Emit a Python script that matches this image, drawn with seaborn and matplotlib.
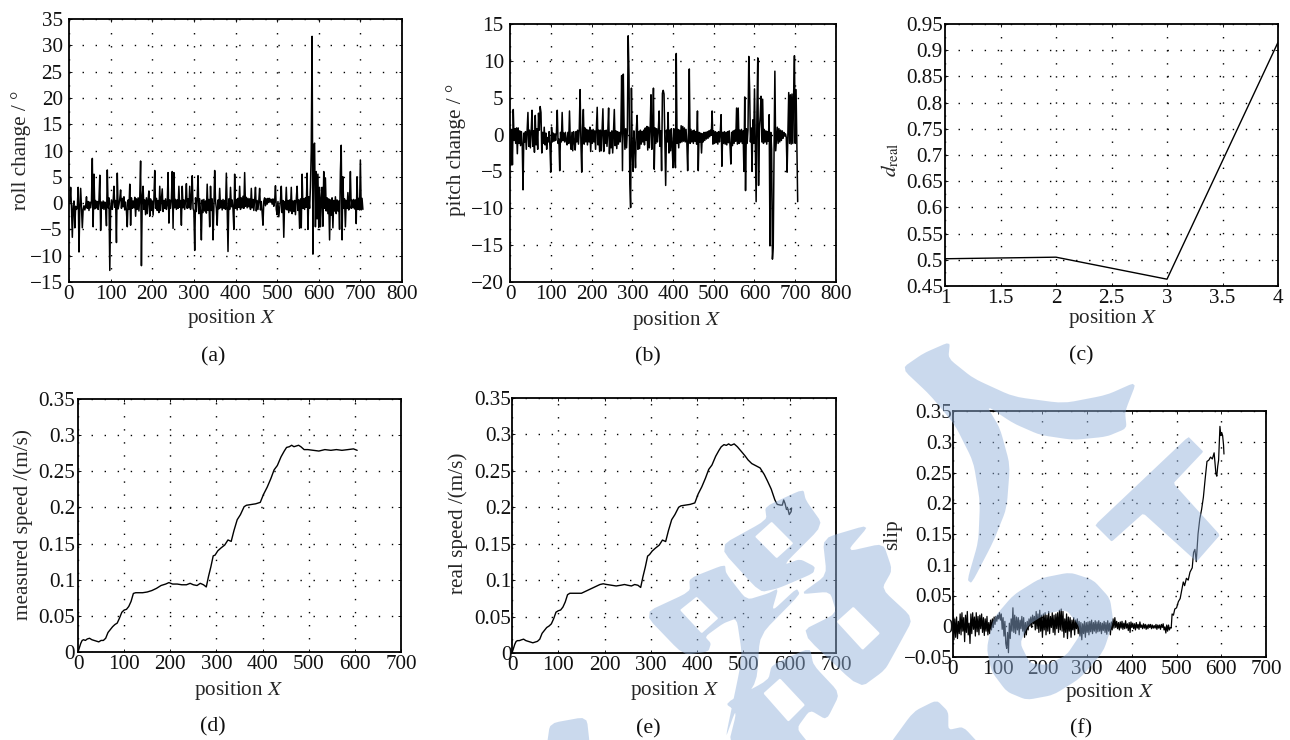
import numpy as np
import matplotlib
matplotlib.use('Agg')
import matplotlib.pyplot as plt
import seaborn as sns
from matplotlib.patches import PathPatch
from matplotlib.path import Path
from matplotlib.transforms import Affine2D

# roll change, one value every 2 units of position
roll_change = [
    0.5, 0.2, 3.0, -1.0, -6.5, -0.5, 0.4, -4.7, -0.6, -1.2,
    -0.8, 3.0, -9.3, -0.7, 2.8, -1.0, -4.7, -1.2, -0.5, -1.3,
    -0.6, 1.2, -1.0, 0.3, -1.4, 0.2, -0.9, 0.4, 8.5, -4.5,
    5.5, -1.1, 0.5, -0.9, 0.3, -1.2, 0.6, 5.3, -5.2, 0.2,
    -1.0, 0.4, -1.2, 0.2, -0.8, -4.3, 6.3, -0.9, 1.0, -12.8,
    -1.0, 0.6, -1.2, 0.3, 3.2, -0.8, 0.5, -7.5, 5.7, -1.1,
    -0.3, 0.8, 2.5, -1.0, 0.9, -0.7, 1.2, -1.3, 0.2, -1.5,
    -4.5, 0.6, -1.2, 3.6, -4.2, 1.0, -1.0, 0.4, -0.9, 1.1,
    -2.5, 0.8, -1.2, 1.0, -1.5, 1.2, 8.0, -11.9, 1.2, 3.2,
    -1.2, 0.6, -2.2, 1.0, -2.0, 0.6, 2.3, -2.5, 0.8, -1.4,
    0.4, -2.3, 0.8, 6.2, -1.0, 0.9, -1.4, 0.5, -1.8, 3.2,
    -1.4, 0.7, 2.7, -1.6, 0.5, -1.0, 0.8, -1.2, -0.3, 5.8,
    -3.8, 0.6, -1.0, 0.8, 6.0, -4.8, 5.8, -0.9, 0.7, -1.2,
    0.6, -1.0, 3.2, -0.8, 0.5, -4.2, 3.2, -0.9, 0.6, -1.2,
    0.5, 3.7, -1.0, 0.8, -0.9, 3.2, -1.2, 0.6, 5.2, -1.0,
    -1.5, -9.0, 1.0, -1.6, 0.9, 5.2, -2.0, 0.8, -1.7, -7.0,
    0.6, -1.8, 0.7, -1.5, 0.4, -1.9, 3.6, -1.4, 0.7, -4.5,
    3.2, -1.4, 0.8, -7.0, -0.9, 6.2, 0.4, -1.0, -4.2, 0.6,
    -1.1, 2.8, -0.9, 0.5, -1.3, 0.7, -1.0, 0.5, -1.2, 5.7,
    -0.8, -9.2, 0.8, -1.2, 3.0, -0.7, 0.6, -1.1, -5.0, 5.5,
    -1.0, 0.7, -1.3, 0.9, -0.8, 3.2, -1.2, 1.0, -0.9, 1.3,
    -1.0, 5.8, -0.6, 1.1, -0.9, 0.9, -0.7, 0.8, -1.2, 2.8,
    -0.9, 0.7, -1.4, 0.6, 3.0, -1.5, 0.5, -1.2, 0.4, 2.8,
    -1.3, 0.3, -1.8, -4.2, 0.4, 1.0, -0.5, 0.8, -0.2, 0.9,
    0.1, 0.9, 0.2, 0.7, -0.2, 0.8, -0.6, 0.3, 3.3, -1.2,
    -2.2, 0.3, -2.6, -1.0, 0.4, 3.2, -1.8, 0.5, -6.5, 0.3,
    -1.1, 3.0, -1.3, 0.5, -1.8, 0.6, -1.5, 3.0, -2.0, 0.4,
    -1.6, 0.5, -2.2, 0.7, 3.2, -1.4, 0.6, -4.8, 0.8, -4.7,
    5.5, -1.0, 0.8, -1.2, 1.0, -0.8, 5.7, -5.0, 1.2, -1.0,
    3.0, 10.0, 31.7, -9.7, 11.0, 11.4, -4.5, 6.0, -3.0, 5.5,
    -4.6, 3.0, -4.5, 0.8, 3.0, -4.4, 6.0, -1.0, 4.8, -1.5,
    1.0, -2.0, 0.8, -7.0, 0.6, -2.3, 1.0, -4.7, 0.5, -1.5,
    1.2, -2.0, 0.6, -1.5, 0.4, -5.0, 6.0, 11.0, -7.0, 5.0,
    -1.0, 0.8, -4.5, 0.5, -1.0, 2.0, -1.3, 0.7, 6.0, -1.0,
    0.6, -0.9, 0.7, -1.1, 0.6, -3.9, 5.0, -1.2, 0.9, -1.3,
    8.2, -1.3, 0.9, -1.2,
]

# pitch change, same positions as roll
pitch_change = [
    0.8, -4.2, 0.7, -4.1, 3.4, -0.8, 0.8, -1.2, 0.9, -2.6,
    0.9, -1.2, 0.5, -1.5, 0.4, -1.3, -7.5, 0.2, -1.0, 0.4,
    -2.0, 0.5, 3.0, -1.6, 0.6, -1.8, 0.4, 3.3, -1.6, 0.5,
    -2.4, 2.6, -1.4, 0.8, -2.0, 2.9, 0.6, 3.8, 3.0, -2.5,
    0.3, -1.2, 1.0, -1.4, 0.2, -2.0, -0.4, -1.0, 0.4, -1.6,
    -5.1, 1.0, -1.0, 0.2, -0.9, 0.1, -0.8, 0.3, 3.3, -1.2,
    -0.6, -4.9, 0.3, -1.0, 3.0, -0.8, 0.2, -1.0, 0.3, -0.9,
    -1.4, 0.3, -1.2, 3.2, -0.9, -2.0, 0.3, -2.2, 0.4, -1.0,
    -2.1, 0.4, -1.0, 0.6, -1.3, 0.7, 6.1, -1.1, -5.1, 0.8,
    3.4, -1.3, 0.9, -1.0, 0.7, -1.4, 0.6, -1.0, 1.0, -2.3,
    0.6, -1.2, 0.7, -1.0, 0.5, -2.0, 0.7, 3.7, -1.4, 0.6,
    -2.3, 0.6, -2.2, 0.7, 3.5, -2.3, 0.5, -1.2, 0.6, -1.6,
    0.4, 3.6, -2.6, 0.3, -1.8, 0.5, -2.5, 0.6, 3.4, -1.5,
    0.5, -1.9, 0.4, -1.3, 0.3, -1.0, 0.5, 8.0, -4.9, 8.2,
    0.9, -2.0, 0.8, -1.8, 0.6, 13.4, 8.0, -6.7, -9.9, 6.3,
    -2.0, -5.0, 0.5, -1.5, -4.5, 0.7, 2.6, -2.0, 0.4, -1.9,
    0.6, -1.3, 0.4, -1.0, 0.6, -1.4, 0.9, -0.8, 1.1, -2.1,
    1.0, -1.8, 0.9, 5.4, -2.0, 0.7, 6.3, -4.7, 0.9, -1.2,
    0.8, -1.0, 0.6, 3.2, -1.6, 0.5, -4.9, 5.6, 6.0, 5.5,
    -1.0, -6.9, 0.6, -1.0, 3.0, -2.5, 0.6, -2.2, 0.8, -1.5,
    -4.5, 0.8, -2.6, -4.5, 11.0, -1.2, 0.7, -1.8, 0.6, -1.1,
    1.2, -1.0, 1.1, -0.9, 0.9, -1.0, 0.7, -1.1, -4.9, 0.6,
    8.9, -1.2, 0.7, -1.0, 0.5, -1.2, 0.6, -0.9, 0.4, -1.3,
    3.2, -4.9, 0.3, -1.0, 0.2, -2.5, 0.1, -1.0, 0.3, -0.8,
    0.3, -0.6, 0.4, -0.5, 0.5, -0.3, 0.6, -0.1, 3.2, -1.3,
    0.5, -1.2, 0.4, -1.1, 0.3, -1.3, 0.4, -1.0, 0.2, 2.7,
    -4.3, 0.3, -1.2, 0.4, -1.3, 0.3, -1.4, 0.4, -1.1, 0.5,
    -1.6, -4.0, 0.3, -1.5, 0.5, -1.2, 0.6, -0.9, 3.6, -1.3,
    3.6, -1.2, 0.6, -1.0, 0.7, -1.2, 0.5, -5.0, 5.1, -7.6,
    0.8, -1.2, 0.6, 10.6, 6.3, -1.0, 0.9, -5.0, 2.0, -1.2,
    6.2, -1.0, -9.1, 3.0, 10.4, -6.9, 0.8, 2.5, 5.2, -1.0,
    4.8, -1.2, 0.7, -1.0, 0.5, -1.3, 0.4, -0.9, 2.7, -15.1,
    0.3, -2.0, -16.9, -15.1, -2.2, 8.6, -2.2, -0.5, 1.0, -1.2,
    0.8, -1.0, 0.6, -0.8, 0.5, -0.5, 0.3, -0.2, 0.1, -0.4,
    -5.1, 0.2, 5.7, -1.2, 5.4, -1.3, 5.5, -1.2, 5.2, 10.7,
    -1.2, 6.1, -1.5, -9.1,
]

dreal_x = [1, 2, 3, 4]
dreal_y = [0.502, 0.505, 0.463, 0.915]

speed_x = [0, 3, 6, 9, 12, 16, 20, 25, 30, 35, 40, 45, 50, 55, 60, 65, 70, 75, 80, 85, 90, 95, 100, 105,
           110, 115, 120, 125, 130, 140, 150, 160, 170, 180, 190, 197, 205, 215, 225, 235, 243, 250, 258,
           265, 272, 278, 283, 288, 293, 297, 303, 310, 318, 325, 332, 338, 345, 352, 360, 365, 375, 385,
           395, 402, 410, 418, 425, 432, 440, 447]
measured_y = [0, 0.006, 0.012, 0.016, 0.017, 0.016, 0.018, 0.019, 0.017, 0.016, 0.015, 0.014, 0.016, 0.016,
              0.019, 0.027, 0.031, 0.035, 0.038, 0.04, 0.047, 0.055, 0.058, 0.059, 0.063, 0.07, 0.081,
              0.082, 0.082, 0.082, 0.083, 0.085, 0.088, 0.092, 0.094, 0.096, 0.094, 0.094, 0.093, 0.093,
              0.095, 0.093, 0.092, 0.095, 0.093, 0.09, 0.105, 0.118, 0.133, 0.134, 0.14, 0.144, 0.148,
              0.155, 0.153, 0.168, 0.183, 0.19, 0.201, 0.203, 0.204, 0.205, 0.207, 0.218, 0.228, 0.24,
              0.252, 0.258, 0.27, 0.278]
real_y = [0, 0.006, 0.012, 0.016, 0.017, 0.017, 0.018, 0.019, 0.017, 0.016, 0.015, 0.014, 0.015, 0.016,
          0.019, 0.027, 0.031, 0.035, 0.037, 0.04, 0.047, 0.056, 0.058, 0.059, 0.063, 0.07, 0.08,
          0.082, 0.082, 0.082, 0.082, 0.085, 0.088, 0.091, 0.094, 0.095, 0.094, 0.093, 0.092, 0.093,
          0.094, 0.093, 0.092, 0.094, 0.093, 0.09, 0.105, 0.118, 0.133, 0.135, 0.14, 0.144, 0.148,
          0.155, 0.153, 0.168, 0.183, 0.19, 0.2, 0.202, 0.203, 0.204, 0.206, 0.218, 0.228, 0.24,
          0.252, 0.258, 0.27, 0.278]

measured_tail_x = [452, 458, 463, 468, 473, 478, 483, 490, 498, 510, 522, 535, 548, 560, 572, 585, 597, 605]
measured_tail_y = [0.283, 0.284, 0.286, 0.284, 0.285, 0.286, 0.284, 0.28, 0.28, 0.279, 0.278, 0.28, 0.279,
                   0.28, 0.279, 0.28, 0.281, 0.279]
real_tail_x = [452, 458, 463, 468, 473, 480, 487, 495, 503, 510, 518, 527, 536, 545, 552, 560, 568, 573,
               580, 584, 587, 590, 593, 596, 599, 603, 604, 601]
real_tail_y = [0.283, 0.286, 0.285, 0.287, 0.285, 0.287, 0.283, 0.277, 0.271, 0.265, 0.26, 0.257, 0.254,
               0.245, 0.236, 0.225, 0.21, 0.204, 0.203, 0.203, 0.21, 0.205, 0.197, 0.198, 0.19, 0.194, 0.199, 0.197]

# slip up to x=488 every 2 units, in thousandths
slip_flat = [
    27, -22, 12, -18, 15, -20, 8, -12, 20, -14,
    22, -8, 14, -25, 18, -10, 24, -14, 5, -28,
    20, -12, 22, -5, 15, -16, 22, -9, 16, -14,
    18, -4, 20, -10, 14, -15, 12, -8, 16, -14,
    6, -12, 10, -6, 12, -2, 15, 3, 16, 8,
    18, 12, 22, 10, 20, -5, 14, -16, 8, -28,
    -36, -10, -43, 5, -20, 12, -8, 30, -10, 18,
    -12, 15, -6, 14, -14, 10, -4, 16, -8, 14,
    -18, 6, -14, 8, -6, 12, 0, 15, -2, 18,
    4, 16, -6, 24, -4, 20, -10, 26, -8, 18,
    -18, 20, -6, 22, -14, 18, -8, 24, -12, 16,
    -2, 22, -10, 18, -14, 20, -4, 22, -10, 26,
    -6, 28, -8, 24, -18, 12, -10, 20, -20, 15,
    -8, 14, -18, 10, -6, 14, -14, 10, -4, 12,
    -12, 8, -16, 6, -22, 4, -12, 8, -18, 6,
    -10, 7, -14, 8, -9, 10, -12, 6, -8, 9,
    -11, 7, -9, 9, -8, 6, -12, 5, -7, 8,
    -10, 6, -13, 9, -8, 5, -14, 7, -6, 12,
    -3, 14, -2, 8, -4, 6, -6, 7, -3, 8,
    -5, 5, -4, 9, -3, 4, -7, 6, -10, 7,
    -2, 5, -4, 4, -6, 6, -3, 3, -5, 7,
    -2, 2, -4, 4, -3, 3, -5, 2, -4, 3,
    -2, 3, -4, 2, -3, 1, -3, 3, -5, 2,
    -3, 2, -5, 3, -2, 4, -6, -1, -11, 2,
    -8, 2, -6, -2, -3,
]
slip_rise_x = [490, 493, 496, 500, 504, 508, 512, 515, 518, 522, 526, 530, 535, 538, 541, 544, 548, 552, 556,
               560, 564, 568, 572, 576, 580, 584, 588, 590, 592, 594, 597, 599, 601, 603, 605, 606]
slip_rise_y = [0.02, 0.018, 0.028, 0.03, 0.04, 0.045, 0.06, 0.072, 0.066, 0.078, 0.075, 0.088, 0.095, 0.12,
               0.125, 0.105, 0.15, 0.175, 0.19, 0.21, 0.24, 0.268, 0.27, 0.275, 0.272, 0.282, 0.248, 0.244,
               0.26, 0.27, 0.325, 0.31, 0.315, 0.31, 0.295, 0.28]

ticks_800 = [0, 100, 200, 300, 400, 500, 600, 700, 800]
ticks_700 = [0, 100, 200, 300, 400, 500, 600, 700]
ticks_pos = [1, 1.5, 2, 2.5, 3, 3.5, 4]
ticks_roll = [-15, -10, -5, 0, 5, 10, 15, 20, 25, 30, 35]
ticks_pitch = [-20, -15, -10, -5, 0, 5, 10, 15]
ticks_d = [0.45, 0.5, 0.55, 0.6, 0.65, 0.7, 0.75, 0.8, 0.85, 0.9, 0.95]
ticks_speed = [0, 0.05, 0.1, 0.15, 0.2, 0.25, 0.3, 0.35]
ticks_slip = [-0.05, 0, 0.05, 0.1, 0.15, 0.2, 0.25, 0.3, 0.35]

sns.set_theme(style='white')
plt.rcParams['font.family'] = ['Liberation Serif', 'DejaVu Serif']
plt.rcParams['mathtext.fontset'] = 'stix'
plt.rcParams['axes.linewidth'] = 1.3
plt.rcParams['text.color'] = '#111111'

W, H = 1290, 740
fig = plt.figure(figsize=(W / 100, H / 100), dpi=100)
FS = 15.2


def fmt(v):
    return f'{v:g}'.replace('-', '\u2212')


def panel(box, x, y, xticks, yticks, ylabel, ylab_px, xlab_px, cap, ypad=3, lw=1.1, sort=True):
    l, t, r, b = box
    ax = fig.add_axes([l / W, 1 - b / H, (r - l) / W, (b - t) / H])
    sns.lineplot(x=x, y=y, ax=ax, color='black', linewidth=lw, estimator=None, errorbar=None, sort=sort)
    ax.set_xlim(xticks[0], xticks[-1])
    ax.set_ylim(yticks[0], yticks[-1])
    ax.set_xticks(xticks, [fmt(v) for v in xticks])
    ax.set_yticks(yticks, [fmt(v) for v in yticks])
    ax.grid(True, color='black', linewidth=1.0, linestyle=(0, (1.0, 8.4)))
    ax.tick_params(axis='x', direction='in', length=2, width=0.7, labelsize=FS, pad=2.5, top=True, bottom=True,
                   colors='#111111')
    ax.tick_params(axis='y', direction='in', length=2, width=0.7, labelsize=FS, pad=ypad, left=True, right=True,
                   colors='#111111')
    for s in ax.spines.values():
        s.set_color('black')
    ax.set_xlabel('position $X$', fontsize=FS, va='center')
    ax.xaxis.set_label_coords((xlab_px[0] - l) / (r - l), (b - xlab_px[1]) / (b - t))
    ax.set_ylabel(ylabel, fontsize=FS, va='center')
    ax.yaxis.set_label_coords((ylab_px[0] - l) / (r - l), (b - ylab_px[1]) / (b - t))
    fig.text(cap[1] / W, 1 - cap[2] / H, cap[0], fontsize=FS + 0.6, ha='center', va='center')
    return ax


pos = np.arange(0, 708, 2)
panel((69, 19, 402, 282), pos, roll_change, ticks_800, ticks_roll, 'roll change / \u00b0',
      (21, 150), (232, 319), ('(a)', 213, 357), ypad=4.5)
panel((510, 24, 836, 282), pos, pitch_change, ticks_800, ticks_pitch, 'pitch change / \u00b0',
      (456, 150), (677, 320), ('(b)', 648, 357), ypad=4.5)
panel((945, 24, 1278, 286), dreal_x, dreal_y, ticks_pos, ticks_d, r'$d_{\mathrm{real}}$',
      (890, 160), (1113, 318), ('(c)', 1081, 356), ypad=1.5, lw=1.0)
panel((78, 399, 401, 652), speed_x + measured_tail_x, measured_y + measured_tail_y, ticks_700, ticks_speed,
      'measured speed /(m/s)', (23, 525), (239, 691), ('(d)', 213, 727), ypad=2, lw=1.0)
panel((512, 398, 836, 653), speed_x + real_tail_x, real_y + real_tail_y, ticks_700, ticks_speed,
      'real speed /(m/s)', (458, 523), (675, 691), ('(e)', 648, 729), ypad=0.5, lw=1.0, sort=False)
slip_x = list(range(0, 490, 2)) + slip_rise_x
slip_y = list(np.array(slip_flat) / 1000) + slip_rise_y
panel((953, 411, 1266, 657), slip_x, slip_y, ticks_700, ticks_slip, 'slip',
      (893, 535), (1110, 692), ('(f)', 1081, 729), ypad=0.5, lw=0.9)


# watermark laid over everything, traced in image pixels from 3x crops
def trace(points, ox, oy, hole=False, cut=0.14):
    pts = np.array([(ox + a / 3, oy + b / 3) for a, b in points])
    # round the corners a little, the original strokes are brush-like
    for _ in range(2):
        nxt = np.roll(pts, -1, axis=0)
        pts = np.column_stack([(1 - cut) * pts + cut * nxt, cut * pts + (1 - cut) * nxt]).reshape(-1, 2)
    area = np.sum(pts[:, 0] * np.roll(pts[:, 1], -1) - np.roll(pts[:, 0], -1) * pts[:, 1])
    if (area < 0) != hole:
        pts = pts[::-1]
    return pts


shapes = [
    trace([(65, 100), (130, 55), (210, 20), (205, 70), (280, 130), (400, 185), (550, 205), (680, 180), (770, 140),
           (735, 230), (740, 280), (680, 305), (580, 315), (480, 300), (400, 265), (320, 212), (360, 280), (390, 390),
           (380, 520), (340, 620), (275, 745), (262, 735), (295, 620), (300, 500), (280, 380), (225, 270),
           (150, 180)], 880, 335),
    trace([(705, 465), (985, 200), (1030, 245), (940, 340), (1080, 495), (1010, 575), (850, 430), (755, 515)], 860, 370,
          cut=0.03),
    trace([(320, 940), (340, 850), (400, 780), (480, 730), (570, 712), (640, 735), (690, 790), (700, 860), (670, 950),
           (600, 1030), (520, 1080), (440, 1095), (380, 1070), (335, 1010)], 880, 335),
    trace([(420, 925), (445, 870), (500, 835), (560, 825), (595, 870), (600, 900), (560, 960), (500, 990),
           (450, 985)], 880, 335, hole=True),
    trace([(235, 635), (380, 555), (375, 515), (490, 462), (497, 495), (550, 570), (430, 690), (480, 672), (525, 695),
           (520, 715), (415, 760), (360, 772)], 640, 335),
    trace([(345, 605), (395, 560), (460, 625), (410, 670)], 640, 335, hole=True, cut=0.03),
    trace([(10, 835), (150, 770), (148, 730), (255, 688), (258, 715), (320, 795), (385, 775), (415, 760), (395, 830),
           (470, 760), (480, 778), (360, 900), (350, 1040), (285, 1130), (255, 1215), (300, 1000), (305, 950),
           (290, 850), (250, 865), (195, 905), (213, 925), (205, 950), (130, 960)], 640, 335),
    trace([(120, 825), (170, 785), (235, 850), (185, 895)], 640, 335, hole=True, cut=0.03),
    trace([(480, 890), (590, 835), (570, 770), (480, 778), (560, 720), (548, 610), (690, 568), (620, 650), (730, 625),
           (757, 705), (725, 762), (820, 850), (770, 942), (735, 1005), (660, 1060)], 640, 335),
    trace([(590, 860), (640, 815), (720, 895), (668, 945)], 640, 335, hole=True, cut=0.03),
    trace([(255, 1105), (385, 1035), (395, 990), (510, 938), (520, 990), (600, 1075), (560, 1155), (510, 1125),
           (470, 1180), (510, 1230), (265, 1230), (290, 1130)], 640, 335),
    trace([(370, 1075), (420, 1030), (495, 1110), (445, 1160)], 640, 335, hole=True, cut=0.03),
    trace([(20, 1240), (100, 1130), (170, 1095), (205, 1130), (205, 1185), (250, 1175), (310, 1240)], 880, 335),
    trace([(350, 1130), (360, 1060), (470, 1040), (480, 1130)], 430, 370),
]
verts, codes = [], []
for s in shapes:
    verts.extend(s.tolist() + [s[0].tolist()])
    codes.extend([Path.MOVETO] + [Path.LINETO] * (len(s) - 1) + [Path.CLOSEPOLY])
to_fig = Affine2D().scale(1, -1).translate(0, H)
fig.add_artist(PathPatch(Path(verts, codes), facecolor=(146 / 255, 177 / 255, 219 / 255), alpha=0.48,
                         edgecolor='none', transform=to_fig, zorder=10))

plt.savefig('out.png', dpi=100)
